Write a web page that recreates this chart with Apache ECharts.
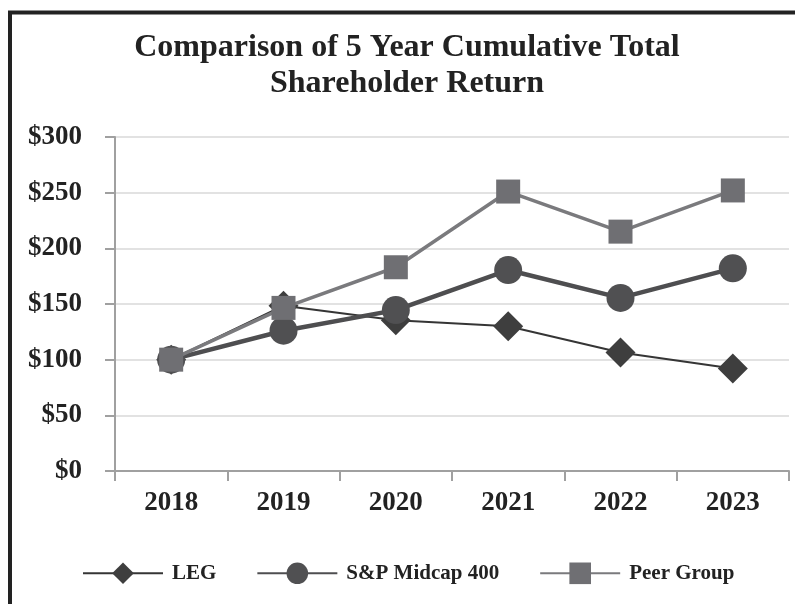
<!DOCTYPE html>
<html>
<head>
<meta charset="utf-8">
<script src="https://cdn.jsdelivr.net/npm/echarts@6/dist/echarts.min.js"></script>
<style>
html,body{margin:0;padding:0;background:#fff;}
#chart{width:795px;height:604px;}
</style>
</head>
<body>
<div id="chart"></div>
<script>
const titleText = 'Comparison of 5 Year Cumulative Total\nShareholder Return';
const years = ['2018', '2019', '2020', '2021', '2022', '2023'];
const legValues = [100, 148.5, 135.5, 130, 106.5, 92];
const spValues = [100, 126, 144.5, 180.5, 155.5, 182];
const peerValues = [100, 146.5, 183, 251, 215, 252];
const seriesNames = ['LEG', 'S&P Midcap 400', 'Peer Group'];
const yTicks = [0, 50, 100, 150, 200, 250, 300];

const FONT = '"Liberation Serif", "Times New Roman", serif';
const chart = echarts.init(document.getElementById('chart'), null, {renderer: 'canvas'});

chart.setOption({
  backgroundColor: '#ffffff',
  animation: false,
  graphic: [{
    type: 'rect',
    shape: {x: 10, y: 12.5, width: 1000, height: 800},
    style: {fill: 'none', stroke: '#222222', lineWidth: 4},
    silent: true,
    z: 100
  }],
  title: {
    text: titleText,
    left: 402,
    top: 25,
    textAlign: 'center',
    textStyle: {
      fontFamily: FONT,
      fontWeight: 'bold',
      fontSize: 32,
      lineHeight: 36,
      color: '#222222'
    }
  },
  legend: {
    left: 77,
    top: 557.5,
    itemWidth: 80,
    itemHeight: 27,
    itemGap: 40,
    data: seriesNames,
    textStyle: {
      fontFamily: FONT,
      fontWeight: 'bold',
      fontSize: 21,
      color: '#222222',
      padding: [0, 0, 0, 4]
    }
  },
  grid: {
    left: 115,
    right: 6,
    top: 137,
    bottom: 133,
    containLabel: false
  },
  xAxis: {
    type: 'category',
    data: years,
    boundaryGap: true,
    axisLine: {lineStyle: {color: '#a0a0a0', width: 2}},
    axisTick: {show: true, length: 10, alignWithLabel: false, lineStyle: {color: '#a0a0a0', width: 2}},
    axisLabel: {
      margin: 19,
      fontFamily: FONT,
      fontWeight: 'bold',
      fontSize: 27,
      color: '#222222'
    },
    splitLine: {show: false}
  },
  yAxis: {
    type: 'value',
    min: yTicks[0],
    max: yTicks[yTicks.length - 1],
    interval: 50,
    axisLine: {show: true, lineStyle: {color: '#a0a0a0', width: 2}},
    axisTick: {show: true, length: 10, lineStyle: {color: '#a0a0a0', width: 2}},
    axisLabel: {
      margin: 33,
      fontFamily: FONT,
      fontWeight: 'bold',
      fontSize: 27,
      color: '#222222',
      formatter: function (v) { return '$' + v; }
    },
    splitLine: {show: true, lineStyle: {color: '#e2e2e2', width: 2}}
  },
  series: [
    {
      name: seriesNames[0],
      type: 'line',
      data: legValues,
      symbol: 'diamond',
      symbolSize: 30,
      lineStyle: {color: '#353535', width: 2},
      itemStyle: {color: '#3e3e3e'},
      z: 2
    },
    {
      name: seriesNames[1],
      type: 'line',
      data: spValues,
      symbol: 'circle',
      symbolSize: 28,
      lineStyle: {color: '#4e4e50', width: 4.5},
      itemStyle: {color: '#505052'},
      z: 3
    },
    {
      name: seriesNames[2],
      type: 'line',
      data: peerValues,
      symbol: 'rect',
      symbolSize: 24,
      lineStyle: {color: '#7a7a7d', width: 3.5},
      itemStyle: {color: '#6f6f73'},
      z: 4
    }
  ]
});
</script>
</body>
</html>
